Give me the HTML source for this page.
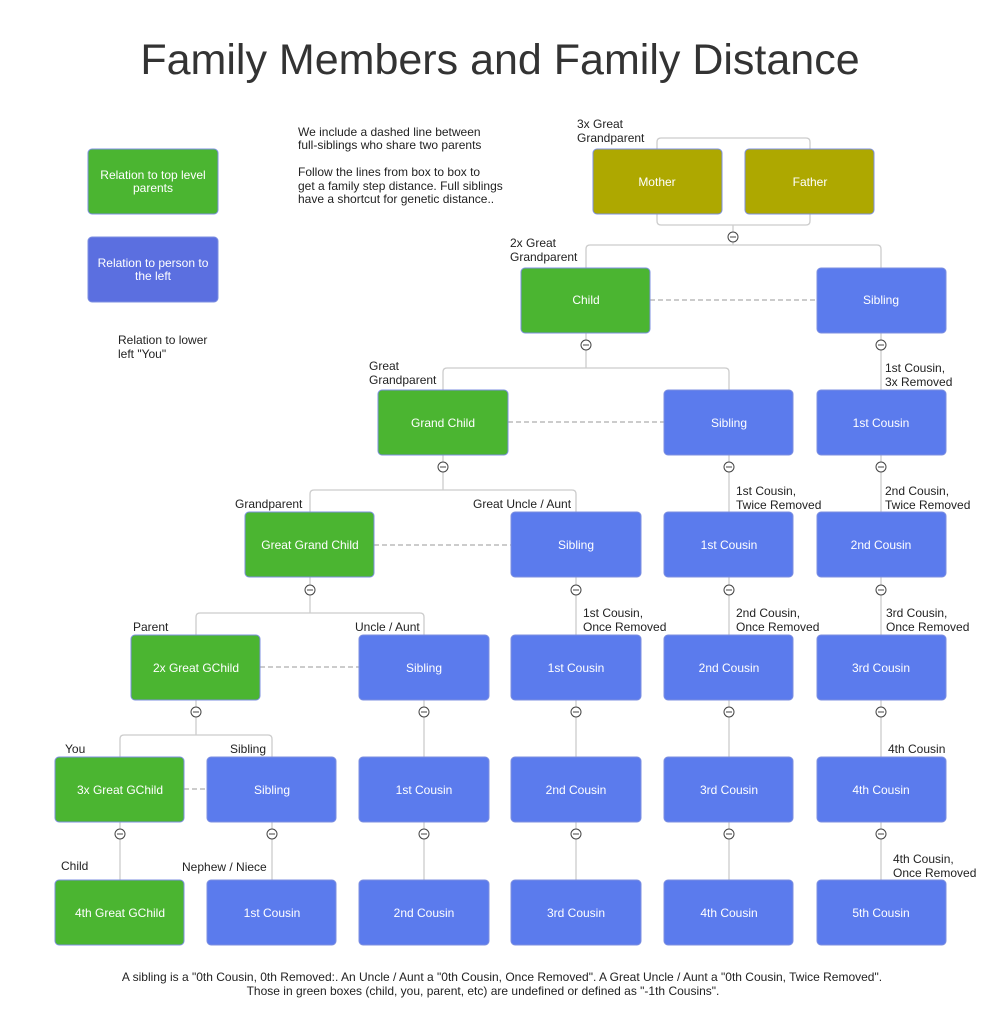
<!DOCTYPE html>
<html><head><meta charset="utf-8"><style>
body{margin:0;background:#fff;}
svg{display:block;font-family:"Liberation Sans",Arial,sans-serif;}
.g{fill:#4bb531;stroke:#7c8fe0;stroke-width:1}
.b{fill:#5b7bed;stroke:#7c8fe0;stroke-width:1}
.o{fill:#aea800;stroke:#7c8fe0;stroke-width:1}
.bt{fill:#fff;font-size:12px;text-anchor:middle}
.l{fill:#222;font-size:12px}
.c{fill:none;stroke:#ccc;stroke-width:1.3}
.d{fill:none;stroke:#bbb;stroke-width:1.5;stroke-dasharray:5,3}
.ci{fill:#fff;stroke:#444;stroke-width:1}
</style></head><body>
<svg width="1002" height="1015" viewBox="0 0 1002 1015">
<text x="500" y="74" text-anchor="middle" font-size="43" fill="#333">Family Members and Family Distance</text>

<!-- legend -->
<rect x="88" y="149" width="130" height="65" rx="4" class="g"/>
<text class="bt" x="153" y="179">Relation to top level</text><text class="bt" x="153" y="192">parents</text>
<rect x="88" y="237" width="130" height="65" rx="4" fill="#5b6fe0" stroke="#7c8fe0"/>
<text class="bt" x="153" y="267">Relation to person to</text><text class="bt" x="153" y="280">the left</text>
<text class="l" x="118" y="344">Relation to lower</text><text class="l" x="118" y="358">left "You"</text>
<text class="l" x="298" y="136">We include a dashed line between</text>
<text class="l" x="298" y="149">full-siblings who share two parents</text>
<text class="l" x="298" y="176">Follow the lines from box to box to</text>
<text class="l" x="298" y="190">get a family step distance. Full siblings</text>
<text class="l" x="298" y="203">have a shortcut for genetic distance..</text>

<!-- connectors -->
<path class="c" d="M657 149 V142 Q657 138 661 138 H806 Q810 138 810 142 V149"/>
<path class="c" d="M657 214 V221 Q657 225 661 225 H806 Q810 225 810 221 V214 M733 225 V232"/>
<path class="c" d="M733 242 V245 H590 Q586 245 586 249 V268 M733 245 H877 Q881 245 881 249 V268"/>
<path class="c" d="M586 333 V340 M586 350 V368 H447 Q443 368 443 372 V390 M586 368 H725 Q729 368 729 372 V390"/>
<path class="c" d="M443 455 V462 M443 472 V490 H314 Q310 490 310 494 V512 M443 490 H572 Q576 490 576 494 V512"/>
<path class="c" d="M310 577 V585 M310 595 V613 H200 Q196 613 196 617 V635 M310 613 H420 Q424 613 424 617 V635"/>
<path class="c" d="M196 700 V707 M196 717 V735 H124 Q120 735 120 739 V757 M196 735 H268 Q272 735 272 739 V757"/>
<path class="c" d="M120 822 V880 M272 822 V880 M424 700 V880 M576 577 V880 M729 455 V880 M881 333 V880"/>

<!-- dashed -->
<path class="d" d="M650 300 H817 M508 422 H664 M374 545 H511 M260 667 H359 M184 789 H207"/>

<!-- circles -->
<g class="ci">
<circle cx="733" cy="237" r="5"/>
<circle cx="586" cy="345" r="5"/><circle cx="881" cy="345" r="5"/>
<circle cx="443" cy="467" r="5"/><circle cx="729" cy="467" r="5"/><circle cx="881" cy="467" r="5"/>
<circle cx="310" cy="590" r="5"/><circle cx="576" cy="590" r="5"/><circle cx="729" cy="590" r="5"/><circle cx="881" cy="590" r="5"/>
<circle cx="196" cy="712" r="5"/><circle cx="424" cy="712" r="5"/><circle cx="576" cy="712" r="5"/><circle cx="729" cy="712" r="5"/><circle cx="881" cy="712" r="5"/>
<circle cx="120" cy="834" r="5"/><circle cx="272" cy="834" r="5"/><circle cx="424" cy="834" r="5"/><circle cx="576" cy="834" r="5"/><circle cx="729" cy="834" r="5"/><circle cx="881" cy="834" r="5"/>
</g>
<g stroke="#444" stroke-width="1">
<path d="M730 237h6 M583 345h6 M878 345h6 M440 467h6 M726 467h6 M878 467h6 M307 590h6 M573 590h6 M726 590h6 M878 590h6 M193 712h6 M421 712h6 M573 712h6 M726 712h6 M878 712h6 M117 834h6 M269 834h6 M421 834h6 M573 834h6 M726 834h6 M878 834h6"/>
</g>

<!-- boxes -->
<rect x="593" y="149" width="129" height="65" rx="4" class="o"/><text class="bt" x="657" y="186">Mother</text>
<rect x="745" y="149" width="129" height="65" rx="4" class="o"/><text class="bt" x="810" y="186">Father</text>

<rect x="521" y="268" width="129" height="65" rx="4" class="g"/><text class="bt" x="586" y="304">Child</text>
<rect x="817" y="268" width="129" height="65" rx="4" class="b"/><text class="bt" x="881" y="304">Sibling</text>

<rect x="378" y="390" width="130" height="65" rx="4" class="g"/><text class="bt" x="443" y="427">Grand Child</text>
<rect x="664" y="390" width="129" height="65" rx="4" class="b"/><text class="bt" x="729" y="427">Sibling</text>
<rect x="817" y="390" width="129" height="65" rx="4" class="b"/><text class="bt" x="881" y="427">1st Cousin</text>

<rect x="245" y="512" width="129" height="65" rx="4" class="g"/><text class="bt" x="310" y="549">Great Grand Child</text>
<rect x="511" y="512" width="130" height="65" rx="4" class="b"/><text class="bt" x="576" y="549">Sibling</text>
<rect x="664" y="512" width="129" height="65" rx="4" class="b"/><text class="bt" x="729" y="549">1st Cousin</text>
<rect x="817" y="512" width="129" height="65" rx="4" class="b"/><text class="bt" x="881" y="549">2nd Cousin</text>

<rect x="131" y="635" width="129" height="65" rx="4" class="g"/><text class="bt" x="196" y="672">2x Great GChild</text>
<rect x="359" y="635" width="130" height="65" rx="4" class="b"/><text class="bt" x="424" y="672">Sibling</text>
<rect x="511" y="635" width="130" height="65" rx="4" class="b"/><text class="bt" x="576" y="672">1st Cousin</text>
<rect x="664" y="635" width="129" height="65" rx="4" class="b"/><text class="bt" x="729" y="672">2nd Cousin</text>
<rect x="817" y="635" width="129" height="65" rx="4" class="b"/><text class="bt" x="881" y="672">3rd Cousin</text>

<rect x="55" y="757" width="129" height="65" rx="4" class="g"/><text class="bt" x="120" y="794">3x Great GChild</text>
<rect x="207" y="757" width="129" height="65" rx="4" class="b"/><text class="bt" x="272" y="794">Sibling</text>
<rect x="359" y="757" width="130" height="65" rx="4" class="b"/><text class="bt" x="424" y="794">1st Cousin</text>
<rect x="511" y="757" width="130" height="65" rx="4" class="b"/><text class="bt" x="576" y="794">2nd Cousin</text>
<rect x="664" y="757" width="129" height="65" rx="4" class="b"/><text class="bt" x="729" y="794">3rd Cousin</text>
<rect x="817" y="757" width="129" height="65" rx="4" class="b"/><text class="bt" x="881" y="794">4th Cousin</text>

<rect x="55" y="880" width="129" height="65" rx="4" class="g"/><text class="bt" x="120" y="917">4th Great GChild</text>
<rect x="207" y="880" width="129" height="65" rx="4" class="b"/><text class="bt" x="272" y="917">1st Cousin</text>
<rect x="359" y="880" width="130" height="65" rx="4" class="b"/><text class="bt" x="424" y="917">2nd Cousin</text>
<rect x="511" y="880" width="130" height="65" rx="4" class="b"/><text class="bt" x="576" y="917">3rd Cousin</text>
<rect x="664" y="880" width="129" height="65" rx="4" class="b"/><text class="bt" x="729" y="917">4th Cousin</text>
<rect x="817" y="880" width="129" height="65" rx="4" class="b"/><text class="bt" x="881" y="917">5th Cousin</text>

<!-- labels -->
<text class="l" x="577" y="128">3x Great</text><text class="l" x="577" y="142">Grandparent</text>
<text class="l" x="510" y="247">2x Great</text><text class="l" x="510" y="261">Grandparent</text>
<text class="l" x="369" y="370">Great</text><text class="l" x="369" y="384">Grandparent</text>
<text class="l" x="235" y="508">Grandparent</text>
<text class="l" x="473" y="508">Great Uncle / Aunt</text>
<text class="l" x="133" y="631">Parent</text>
<text class="l" x="355" y="631">Uncle / Aunt</text>
<text class="l" x="65" y="753">You</text>
<text class="l" x="230" y="753">Sibling</text>
<text class="l" x="61" y="870">Child</text>
<text class="l" x="182" y="871">Nephew / Niece</text>
<text class="l" x="885" y="372">1st Cousin,</text><text class="l" x="885" y="386">3x Removed</text>
<text class="l" x="736" y="495">1st Cousin,</text><text class="l" x="736" y="509">Twice Removed</text>
<text class="l" x="885" y="495">2nd Cousin,</text><text class="l" x="885" y="509">Twice Removed</text>
<text class="l" x="583" y="617">1st Cousin,</text><text class="l" x="583" y="631">Once Removed</text>
<text class="l" x="736" y="617">2nd Cousin,</text><text class="l" x="736" y="631">Once Removed</text>
<text class="l" x="886" y="617">3rd Cousin,</text><text class="l" x="886" y="631">Once Removed</text>
<text class="l" x="888" y="753">4th Cousin</text>
<text class="l" x="893" y="863">4th Cousin,</text><text class="l" x="893" y="877">Once Removed</text>

<text class="l" x="502" y="981" text-anchor="middle">A sibling is a "0th Cousin, 0th Removed:. An Uncle / Aunt a "0th Cousin, Once Removed". A Great Uncle / Aunt a "0th Cousin, Twice Removed".</text>
<text class="l" x="483" y="995" text-anchor="middle">Those in green boxes (child, you, parent, etc) are undefined or defined as "-1th Cousins".</text>
</svg>
</body></html>
